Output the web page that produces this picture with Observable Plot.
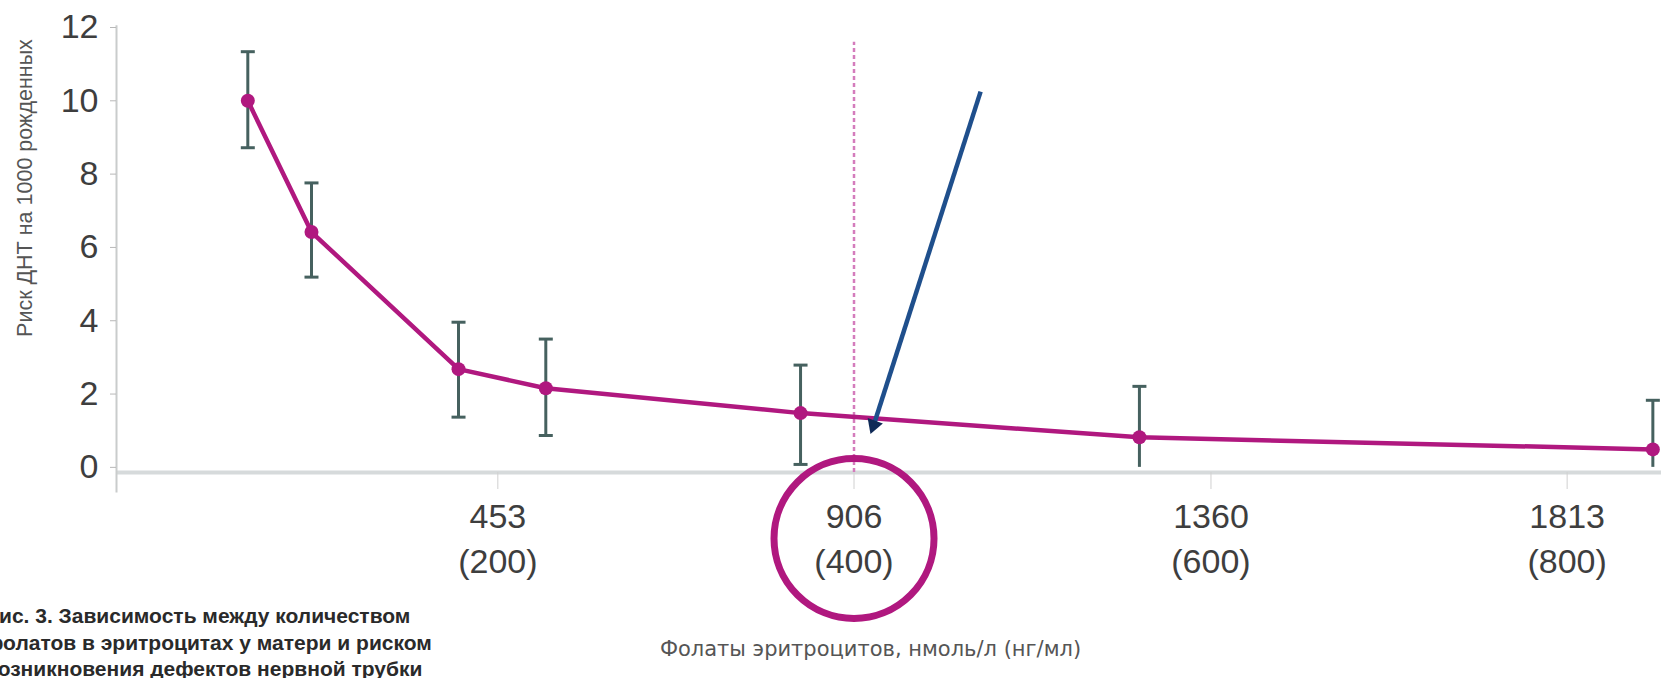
<!DOCTYPE html>
<html><head><meta charset="utf-8">
<script src="https://cdn.jsdelivr.net/npm/d3@7"></script>
<script src="https://cdn.jsdelivr.net/npm/@observablehq/plot@0.6"></script>
<style>
html,body{margin:0;padding:0;background:#fff;overflow:hidden}
#wrap{position:relative;width:1671px;height:678px;overflow:hidden;background:#fff}
#caption{position:absolute;left:-15px;top:603px;font:bold 21px "Liberation Sans",sans-serif;line-height:26.5px;color:#2a2a2a;white-space:nowrap}
</style></head><body>
<div id="wrap"><div id="chart"></div><div id="caption">Рис. 3. Зависимость между количеством<br>фолатов в эритроцитах у матери и риском<br>возникновения дефектов нервной трубки</div></div>
<script>
// Data (folate in nmol/L, risk per 1000 births)
const folate   = [135, 216, 403, 514, 838, 1269, 1922];
const risk     = [10.0, 6.42, 2.68, 2.16, 1.48, 0.82, 0.49];
const riskHigh = [11.34, 7.76, 3.96, 3.50, 2.79, 2.21, 1.83];
const riskLow  = [8.72, 5.19, 1.37, 0.87, 0.08, 0, 0];
const xTicks     = [453, 906, 1360, 1813];
const xTicksNgMl = [200, 400, 600, 800];
const yTicks     = [0, 2, 4, 6, 8, 10, 12];
const threshold = 906;
const thresholdTop = 11.6;
const arrowLine = [{x1: 1067, y1: 10.25, x2: 931, y2: 1.15}];
const highlight = [{x: 906, y: -1.94}];
const yLabel = "Риск ДНТ на 1000 рожденных";
const xLabel = "Фолаты эритроцитов, нмоль/л (нг/мл)";
const yLabelAt = [{y: 7.62}];
const xLabelAt = [{x: 927}];

const xDomain = [-32, 1933];
const yDomain = [-0.14, 12];

const data = folate.map((f, i) => ({x: f, y: risk[i], hi: riskHigh[i], lo: riskLow[i]}));

const cap = {draw(context, size) { const w = Math.sqrt(size / Math.PI); context.moveTo(-w, 0); context.lineTo(w, 0); }};

const magenta = "#b0187f";
const barColor = "#46615f";

const chart = Plot.plot({
  width: 1671,
  height: 678,
  marginLeft: 116,
  marginRight: 10,
  marginTop: 27,
  marginBottom: 206,
  style: {fontFamily: "'Liberation Sans', sans-serif", color: "#444", background: "transparent"},
  x: {domain: xDomain, axis: null},
  y: {domain: yDomain, axis: null},
  marks: [
    Plot.ruleY([yDomain[0]], {stroke: "#d6dadb", strokeWidth: 4}),
    Plot.ruleX([xDomain[0]], {y1: -0.7, y2: 12.05, stroke: "#c9cccc", strokeWidth: 2}),
    Plot.axisX(xTicks, {tickFormat: (d, i) => `${d}\n(${xTicksNgMl[i]})`, tickSize: 17, tickPadding: 7, fontSize: 34, lineHeight: 1.32, stroke: "#d0d0d0", fill: "#3e3e3e", label: null}),
    Plot.axisY(yTicks, {tickSize: 6, tickPadding: 12, fontSize: 34, stroke: "#b8b8b8", fill: "#3e3e3e", label: null}),
    Plot.text(yLabelAt, {y: "y", frameAnchor: "left", textAnchor: "middle", dx: -91, rotate: -90, text: () => yLabel, fontSize: 21.5, fill: "#555"}),
    Plot.text(xLabelAt, {x: "x", frameAnchor: "bottom", dy: 183, text: () => xLabel, fontSize: 21, fill: "#555", fontFamily: "'DejaVu Sans', sans-serif"}),
    Plot.ruleX([threshold], {y1: yDomain[0], y2: thresholdTop, stroke: "#d47cbc", strokeWidth: 2.5, strokeDasharray: "4,3"}),
    Plot.ruleX(data, {x: "x", y1: "lo", y2: "hi", stroke: barColor, strokeWidth: 3}),
    Plot.dot(data, {x: "x", y: "hi", symbol: cap, r: 7, stroke: barColor, strokeWidth: 3}),
    Plot.dot(data.filter(d => d.lo > 0), {x: "x", y: "lo", symbol: cap, r: 7, stroke: barColor, strokeWidth: 3}),
    Plot.line(data, {x: "x", y: "y", stroke: magenta, strokeWidth: 4.5}),
    Plot.dot(data, {x: "x", y: "y", r: 7, fill: magenta}),
    Plot.link(arrowLine, {x1: "x1", y1: "y1", x2: "x2", y2: "y2", stroke: "#1f4f8c", strokeWidth: 4.5}),
    Plot.dot(arrowLine, {x: "x2", y: "y2", r: 6, symbol: "triangle", rotate: 200, fill: "#0f2a57"}),
    Plot.dot(highlight, {x: "x", y: "y", r: 80, stroke: magenta, strokeWidth: 7, fill: "none"})
  ]
});
document.getElementById("chart").appendChild(chart);
</script>
</body></html>
